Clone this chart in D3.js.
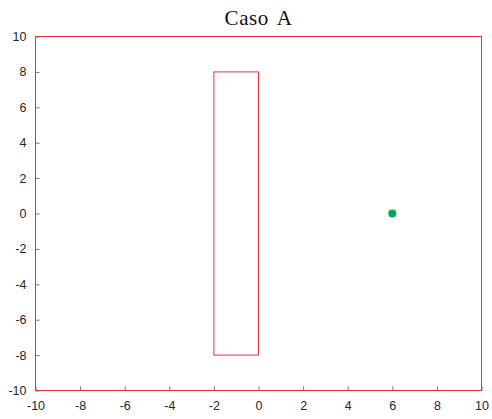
<!DOCTYPE html>
<html>
<head>
<meta charset="utf-8">
<script src="https://cdn.jsdelivr.net/npm/d3@7"></script>
<style>
  html, body { margin: 0; padding: 0; background: #fff; }
  svg { display: block; }
</style>
</head>
<body>
<svg id="chart" width="492" height="419"></svg>
<script>
// Plot data
const titleText = "Caso A";
const xDomain = [-10, 10];
const yDomain = [-10, 10];
const xTicks = [-10, -8, -6, -4, -2, 0, 2, 4, 6, 8, 10];
const yTicks = [-10, -8, -6, -4, -2, 0, 2, 4, 6, 8, 10];
// Rectangle corners (x, y) traced as a closed outline
const rectX = [-2, 0, 0, -2, -2];
const rectY = [-8, -8, 8, 8, -8];
// Single marker point
const pointX = [6];
const pointY = [0];

const svg = d3.select("#chart");
const margin = { left: 35.5, right: 10.5, top: 36.5, bottom: 28.5 };
const W = 492, H = 419;

const x = d3.scaleLinear().domain(xDomain).range([margin.left, W - margin.right]);
const y = d3.scaleLinear().domain(yDomain).range([H - margin.bottom, margin.top]);

const axisColor = "#e8303f";
const tickColor = "#777";
const labelFont = "'Liberation Sans', Arial, sans-serif";
const fmt = d => String(d); // plain hyphen-minus for negatives

// Ticks pointing inward from bottom and left
const xAxis = d3.axisBottom(x).tickValues(xTicks).tickFormat(fmt).tickSizeInner(-4).tickSizeOuter(0).tickPadding(11);
const yAxis = d3.axisLeft(y).tickValues(yTicks).tickFormat(fmt).tickSizeInner(-4).tickSizeOuter(0).tickPadding(9);

const gx = svg.append("g").attr("transform", `translate(0,${y(-10)})`).call(xAxis);
const gy = svg.append("g").attr("transform", `translate(${x(-10)},0)`).call(yAxis);

[gx, gy].forEach(g => {
  g.select(".domain").remove();
  g.selectAll(".tick line").attr("stroke", tickColor).attr("stroke-width", 1);
  g.selectAll(".tick text")
    .attr("fill", "#262626")
    .style("font-family", labelFont)
    .style("font-size", "12.5px");
});

// Axes box
svg.append("rect")
  .attr("x", x(-10)).attr("y", y(10))
  .attr("width", x(10) - x(-10)).attr("height", y(-10) - y(10))
  .attr("fill", "none").attr("stroke", axisColor).attr("stroke-width", 1);

// Rectangle outline
const line = d3.line().x(d => x(d[0])).y(d => y(d[1]));
svg.append("path")
  .datum(rectX.map((v, i) => [v, rectY[i]]))
  .attr("d", line)
  .attr("fill", "none")
  .attr("stroke", axisColor)
  .attr("stroke-width", 1);

// Marker
svg.selectAll("circle.pt")
  .data(pointX.map((v, i) => [v, pointY[i]]))
  .join("circle")
  .attr("class", "pt")
  .attr("cx", d => x(d[0]))
  .attr("cy", d => y(d[1]))
  .attr("r", 4)
  .attr("fill", "#00a650");

// Title
svg.append("text")
  .attr("x", (x(-10) + x(10)) / 2)
  .attr("y", 25)
  .attr("text-anchor", "middle")
  .attr("fill", "#111")
  .style("font-family", "'Liberation Serif', 'DejaVu Serif', serif")
  .style("font-size", "21px")
  .style("letter-spacing", "0.6px")
  .style("word-spacing", "3px")
  .text(titleText);
</script>
</body>
</html>
